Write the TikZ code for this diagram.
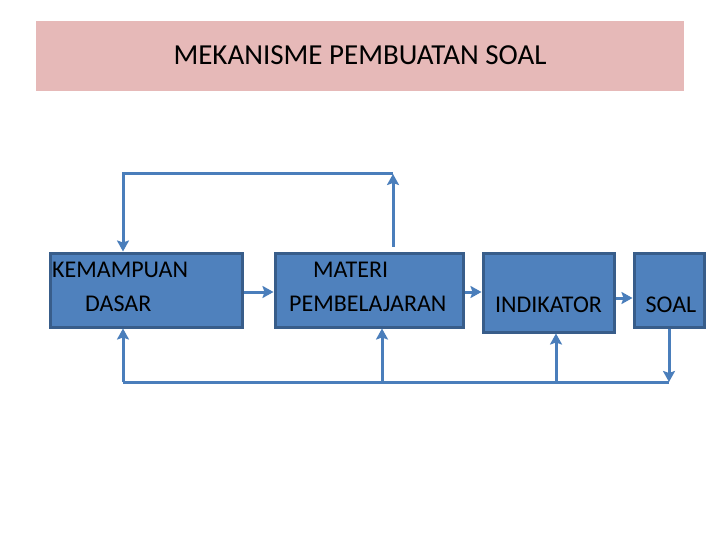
\documentclass[tikz,border=0pt]{standalone}
\usepackage{fontspec}
\setmainfont{Carlito}
\usetikzlibrary{arrows.meta}
\definecolor{kotakisi}{HTML}{4F81BD}
\definecolor{kotaktepi}{HTML}{385D8A}
\definecolor{garisbiru}{HTML}{4A7EBB}
\definecolor{pitamerah}{HTML}{E6B9B8}
\tikzset{
  kotak/.style={draw=kotaktepi, fill=kotakisi, line width=3pt, inner sep=0pt},
  panah/.style={draw=garisbiru, line width=3pt, -{Stealth[length=11pt,width=12pt,inset=2pt]}},
  garis/.style={draw=garisbiru, line width=3pt},
  teks/.style={font=\fontsize{24}{24}\selectfont, inner sep=0pt}
}
\begin{document}
\begin{tikzpicture}[x=1pt,y=-1pt]
			%%%%% START %%%%%
			\useasboundingbox[fill=white] (0,0) rectangle (720,540);
			
			\fill[pitamerah] (36,21) rectangle (684,91);
			\node[font=\fontsize{29}{29}\selectfont, anchor=base] (judul) at (360,65) {MEKANISME PEMBUATAN SOAL};
			
			\node[kotak, minimum width=192pt, minimum height=74pt] (b1) at (146,290) {};
			\node[kotak, minimum width=188pt, minimum height=74pt] (b2) at (369,290) {};
			\node[kotak, minimum width=131pt, minimum height=79pt] (b3) at (548.5,292.5) {};
			\node[kotak, minimum width=70pt, minimum height=74pt] (b4) at (669,290) {};
			
			\node[teks, anchor=base west] (t1a) at (52,277) {KEMAMPUAN};
			\node[teks, anchor=base west] (t1b) at (85,311) {DASAR};
			\node[teks, anchor=base west] (t2a) at (313,277) {MATERI};
			\node[teks, anchor=base west] (t2b) at (289,311) {PEMBELAJARAN};
			\node[teks, anchor=base] (t3) at (548.5,312) {INDIKATOR};
			\node[teks, anchor=base] (t4) at (671,312) {SOAL};
			
			\coordinate (atasL) at (123,174);
			\coordinate (atasR) at (393,174);
			\coordinate (bawahL) at (123,382);
			\coordinate (bawah2) at (382,382);
			\coordinate (bawah3) at (556,382);
			\coordinate (bawahR) at (669,382);
			\coordinate (tengah) at (0,292);
			\coordinate (kanan) at (0,298);
			
			\draw[panah] (b1.east |- tengah) -- (b2.west |- tengah);
			\draw[panah] (b2.east |- tengah) -- (b3.west |- tengah);
			\draw[panah] (b3.east |- kanan) -- (b4.west |- kanan);
			
			\draw[panah, shorten <=5pt] (b2.north -| atasR) -- (atasR);
			\draw[panah] (atasR) -- (atasL) -- (b1.north -| atasL);
			
			\draw[garis] (bawahL) -- (bawahR);
			\draw[panah] (bawahL) -- (b1.south -| bawahL);
			\draw[panah] (bawah2) -- (b2.south -| bawah2);
			\draw[panah] (bawah3) -- (b3.south -| bawah3);
			\draw[panah] (b4.south -| bawahR) -- (bawahR);
			%%%%% END %%%%%
\end{tikzpicture}
\end{document}
